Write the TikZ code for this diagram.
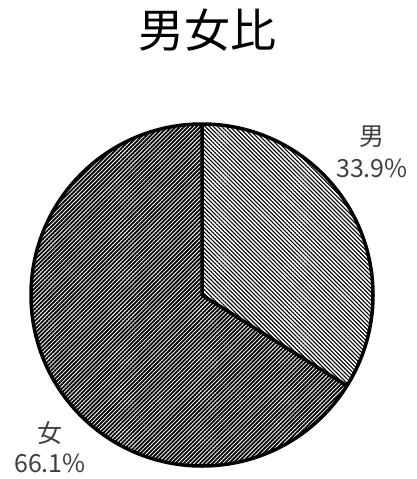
\documentclass[tikz,border=0pt]{standalone}
\usepackage{fontspec}
\setmainfont{Noto Sans CJK JP}
\usepackage{xcolor}
\usepackage{tikz}
\usetikzlibrary{calc,patterns.meta}
\definecolor{labelgray}{RGB}{64,64,64}
\tikzset{
  pielabel/.style={text=labelgray,font=\fontsize{25}{25}\selectfont,inner sep=0pt},
  maleslice/.style={pattern={Lines[angle=-45,distance=2.9pt,line width=1.1pt]}},
  femaleslice/.style={pattern={Lines[angle=45,distance=2.9pt,line width=1.8pt]}}
}
\begin{document}
\begin{tikzpicture}[x=1pt,y=1pt]
\useasboundingbox (0,0) rectangle (417,-479);
\node (title) at (207,-30) {\fontsize{46}{46}\selectfont 男女比};
\coordinate (o) at (202,-295);
% slices
\fill[maleslice] (o) -- ++(90:171) arc (90:-32.04:171) -- cycle;
\fill[femaleslice] (o) -- ++(-32.04:171) arc (-32.04:-270:171) -- cycle;
\draw[line width=3.5pt,line join=round] (o) circle (171);
\draw[line width=3.5pt,line join=round] ($(o)+(90:171)$) -- (o) -- ++(-32.04:171);
% labels
\node[pielabel] (male) at (372,-137) {男};
\node[pielabel] (malepct) at (372,-168) {33.9\%};
\node[pielabel] (female) at (50,-433) {女};
\node[pielabel] (femalepct) at (50,-463) {66.1\%};
\end{tikzpicture}
\end{document}
